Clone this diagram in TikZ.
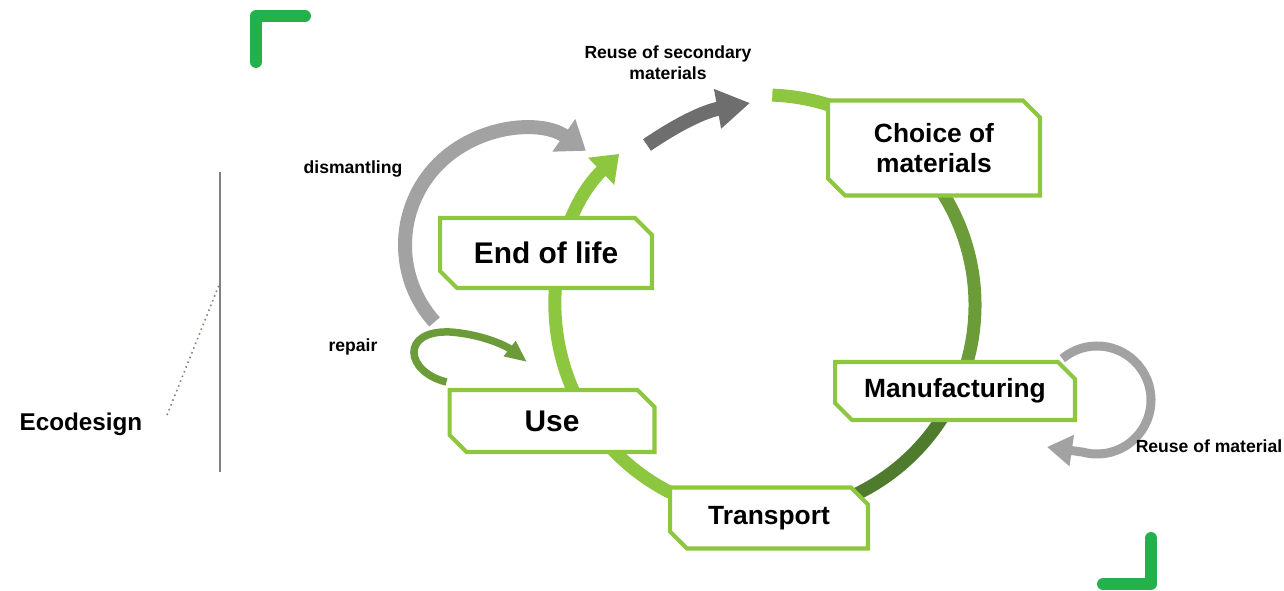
\documentclass[tikz,border=0pt]{standalone}
\usepackage{fontspec}
\setmainfont{Liberation Sans}
\usetikzlibrary{arrows.meta, shapes.misc, positioning, calc, backgrounds}

\definecolor{leaf}{HTML}{8DC63F}
\definecolor{moss}{HTML}{6C9C3A}
\definecolor{forest}{HTML}{4E7B2C}
\definecolor{stone}{HTML}{A2A2A2}
\definecolor{slate}{HTML}{6E6E6E}
\definecolor{cornergreen}{HTML}{24B04B}

\begin{document}
\begin{tikzpicture}[x=0.02cm, y=0.02cm,
    stage/.style={chamfered rectangle, chamfered rectangle corners={north east, south west}, chamfered rectangle sep=0.17cm, draw=leaf, line width=2.3pt, fill=white, align=center, inner sep=0pt, font=\bfseries\fontsize{15}{17}\selectfont},
    bigstage/.style={stage, font=\bfseries\fontsize{17}{20}\selectfont},
    ring/.style={line width=0.26cm},
    note/.style={font=\bfseries\fontsize{10}{12}\selectfont, align=center}]
  \useasboundingbox (0,0) rectangle (1284,-591);

  % life cycle stages
  \node[stage, minimum width=4.24cm, minimum height=1.9cm] (choice) at (934,-148) {Choice of\\materials};
  \node[stage, minimum width=4.8cm, minimum height=1.16cm] (manuf) at (955,-391) {Manufacturing};
  \node[stage, minimum width=3.96cm, minimum height=1.22cm] (transport) at (769,-518) {Transport};
  \node[bigstage, minimum width=4.1cm, minimum height=1.24cm] (use) at (552,-421) {Use};
  \node[bigstage, minimum width=4.24cm, minimum height=1.4cm] (eol) at (546,-253) {End of life};

  % loop ends
  \coordinate (hub) at (765,-305);
  \coordinate (sec from) at (647,-145);
  \coordinate (sec to) at (750,-103);
  \coordinate (dis hub) at (520,-245);
  \coordinate (rep to) at (527,-362);
  \coordinate (mat hub) at (1097,-400);
  \coordinate (mat to) at (1047,-447);

  \begin{scope}[on background layer]
    % main cycle
    \draw[ring, leaf] (hub) ++(88:210) arc[start angle=88, end angle=44, radius=210];
    \draw[ring, moss] (hub) ++(46:210) arc[start angle=46, end angle=-20, radius=210];
    \draw[ring, forest] (hub) ++(-18:210) arc[start angle=-18, end angle=-80, radius=210];
    \draw[ring, leaf, -{Triangle[length=0.5cm, width=0.72cm]}] (hub) ++(-78:210) arc[start angle=-78, end angle=-226, radius=210];
  \end{scope}

  \draw[line width=0.28cm, slate, -{Triangle[length=0.66cm, width=0.76cm]}] (sec from) to[bend left=12] (sec to);
  \draw[line width=0.28cm, stone, -{Triangle[length=0.54cm, width=0.76cm]}] (dis hub) ++(222:115) arc[start angle=222, end angle=55, radius=115];
  \draw[line width=0.15cm, moss, -{Triangle[length=0.44cm, width=0.36cm]}] ([xshift=-0.02cm, yshift=0.12cm]use.north west) .. controls (405,-372) and (400,-330) .. (450,-332) .. controls (480,-334) and (505,-345) .. (rep to);
  \draw[line width=0.18cm, stone, -{Triangle[length=0.5cm, width=0.6cm]}] (mat hub) ++(130:54) arc[start angle=130, end angle=-105, radius=54] -- (mat to);

  % labels
  \node[note] (secondary) at (668,-63) {Reuse of secondary\\materials};
  \node[note] (dismantling) at (353,-169) {dismantling};
  \node[note] (repair) at (353,-347) {repair};
  \node[note] (reuse) at (1209,-446) {Reuse of material};
  \node[font=\bfseries\fontsize{13.8}{16}\selectfont] (ecodesign) at (81,-424) {Ecodesign};

  % ecodesign bar
  \draw[gray, line width=1.2pt] (220,-172) -- (220,-472);
  \draw[gray!80!brown, dotted, line width=0.9pt] (167,-415) -- (219,-285);

  % corner marks
  \draw[cornergreen, line width=0.24cm, line cap=round, line join=round] (256,-62) -- (256,-16) -- (305,-16);
  \draw[cornergreen, line width=0.24cm, line cap=round, line join=round] (1151,-538) -- (1151,-584) -- (1103,-584);
\end{tikzpicture}
\end{document}
